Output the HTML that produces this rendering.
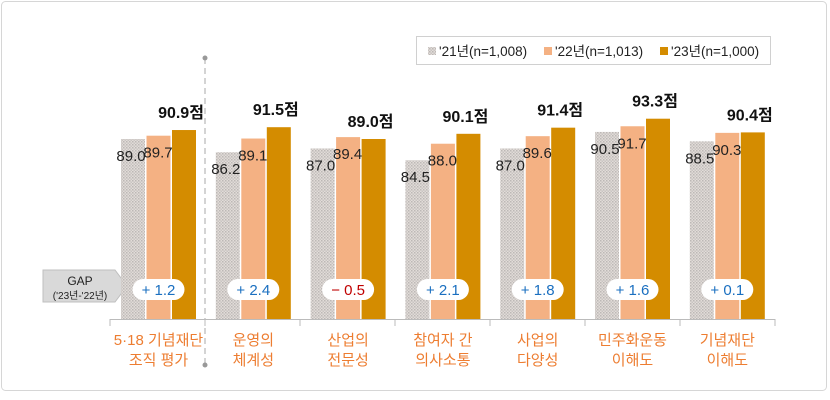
<!DOCTYPE html>
<html><head><meta charset="utf-8"><style>
html,body{margin:0;padding:0;background:#fff;width:830px;height:400px;overflow:hidden}
svg text{font-family:"Liberation Sans","Noto Sans CJK KR",sans-serif}
</style></head><body>
<svg id="s" width="830" height="400" xmlns="http://www.w3.org/2000/svg">
<defs>
<pattern id="dot" width="3" height="3" patternUnits="userSpaceOnUse">
<rect width="3" height="3" fill="#e2dcd8"/><rect width="1.5" height="1.5" fill="#bcb8b6"/><rect x="1.5" y="1.5" width="1.5" height="1.5" fill="#c8c4c2"/>
</pattern>
</defs>
<rect x="1.5" y="1.5" width="825" height="389" rx="4" fill="#fff" stroke="#d6d6d6"/>
<rect x="416.5" y="36.5" width="354" height="28" fill="#fff" stroke="#d0d0d0"/>
<rect x="428" y="47" width="8" height="8" fill="url(#dot)"/>
<text x="439" y="56" font-size="13.5" fill="#222">'21년(n=1,008)</text>
<rect x="544" y="47" width="8" height="8" fill="#f4b183"/>
<text x="555" y="56" font-size="13.5" fill="#222">'22년(n=1,013)</text>
<rect x="660" y="47" width="8" height="8" fill="#d48c00"/>
<text x="671" y="56" font-size="13.5" fill="#222">'23년(n=1,000)</text>
<line x1="205" y1="58" x2="205" y2="365" stroke="#aaa" stroke-dasharray="6,4"/>
<circle cx="205" cy="58" r="2.5" fill="#999"/><circle cx="205" cy="365" r="2.5" fill="#999"/>
<polygon points="43,270 115,270 127,286 115,302 43,302" fill="#d9d9d9" stroke="#bfbfbf"/>
<text x="80" y="285" font-size="12" text-anchor="middle" fill="#222">GAP</text>
<text x="80" y="299" font-size="10" text-anchor="middle" fill="#222">('23년-'22년)</text>
<g id="g"></g>
</svg>
<script>
var d=[[89.0,89.7,90.9,"+ 1.2",["5·18 기념재단","조직 평가"]],
[86.2,89.1,91.5,"+ 2.4",["운영의","체계성"]],
[87.0,89.4,89.0,"− 0.5",["산업의","전문성"]],
[84.5,88.0,90.1,"+ 2.1",["참여자 간","의사소통"]],
[87.0,89.6,91.4,"+ 1.8",["사업의","다양성"]],
[90.5,91.7,93.3,"+ 1.6",["민주화운동","이해도"]],
[88.5,90.3,90.4,"+ 0.1",["기념재단","이해도"]]];
var h='',B=319;function y(v){return 139-(v-89)*4.72;}
h+='<line x1="110" y1="319.5" x2="775" y2="319.5" stroke="#bbb"/>';
for(var i=0;i<=7;i++){var tx=110+95*i;h+='<line x1="'+tx+'" y1="319" x2="'+tx+'" y2="326" stroke="#bbb"/>';}
d.forEach(function(r,i){var x=121+94.8*i,c=x+37.5;
var f=['url(#dot)','#f4b183','#d48c00'];
for(var k=0;k<3;k++){var bx=x+k*25.5,t=y(r[k]);h+='<rect x="'+bx+'" y="'+t+'" width="24" height="'+(B-t)+'" fill="'+f[k]+'"/>';}
h+='<text x="'+(x+10)+'" y="'+(y(r[0])+22)+'" font-size="15" text-anchor="middle" fill="#222">'+r[0].toFixed(1)+'</text>';
h+='<text x="'+(x+37)+'" y="'+(y(r[1])+22)+'" font-size="15" text-anchor="middle" fill="#222">'+r[1].toFixed(1)+'</text>';
h+='<text x="'+(x+60)+'" y="'+(y(r[2])-12)+'" font-size="16" font-weight="bold" text-anchor="middle" fill="#111">'+r[2].toFixed(1)+'점</text>';
h+='<rect x="'+(c-26)+'" y="279" width="52" height="21" rx="10.5" fill="#fff"/>';
h+='<text x="'+c+'" y="295" font-size="15" text-anchor="middle" fill="'+(r[3][0]=="−"?"#c00000":"#1a6fc0")+'">'+r[3]+'</text>';
h+='<text x="'+c+'" y="345" font-size="15" text-anchor="middle" fill="#ed7d31">'+r[4][0]+'</text>';
h+='<text x="'+c+'" y="365" font-size="15" text-anchor="middle" fill="#ed7d31">'+r[4][1]+'</text>';
});
document.getElementById('g').innerHTML=h;
</script>
</body></html>
